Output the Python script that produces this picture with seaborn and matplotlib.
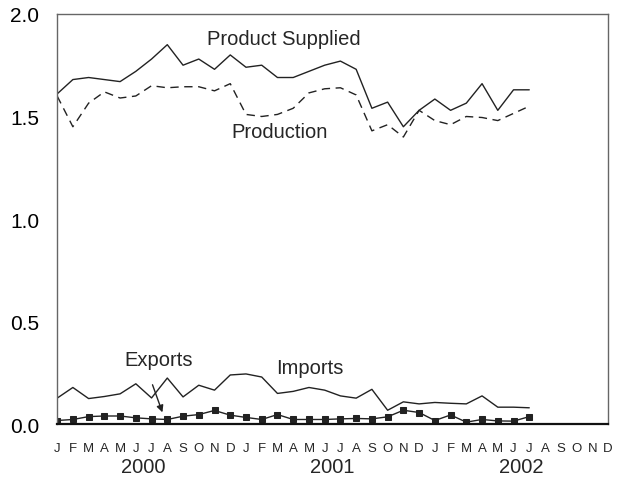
import numpy as np
import pandas as pd
import seaborn as sns
import matplotlib.pyplot as plt
import matplotlib.transforms as mtransforms

# Monthly values, Jan 2000 .. Jul 2002 (million barrels per day)
product_supplied = [1.61, 1.68, 1.69, 1.68, 1.67, 1.72, 1.78, 1.85, 1.75, 1.78, 1.73, 1.80,
                    1.74, 1.75, 1.69, 1.69, 1.72, 1.75, 1.77, 1.73, 1.54, 1.57, 1.45, 1.53,
                    1.585, 1.53, 1.565, 1.66, 1.53, 1.63, 1.63]
production = [1.60, 1.45, 1.565, 1.62, 1.59, 1.60, 1.65, 1.64, 1.645, 1.645, 1.625, 1.66,
              1.51, 1.50, 1.51, 1.54, 1.615, 1.635, 1.64, 1.605, 1.43, 1.46, 1.40, 1.53,
              1.48, 1.46, 1.50, 1.495, 1.48, 1.515, 1.55]
imports = [0.127, 0.179, 0.125, 0.135, 0.148, 0.197, 0.128, 0.225, 0.133, 0.19, 0.166, 0.24,
           0.245, 0.23, 0.15, 0.16, 0.179, 0.166, 0.138, 0.127, 0.17, 0.068, 0.109, 0.099,
           0.106, 0.102, 0.099, 0.138, 0.083, 0.083, 0.080]
exports = [0.018, 0.023, 0.037, 0.04, 0.04, 0.031, 0.026, 0.023, 0.039, 0.047, 0.067, 0.044,
           0.033, 0.023, 0.047, 0.023, 0.023, 0.023, 0.026, 0.028, 0.026, 0.036, 0.068, 0.057,
           0.018, 0.045, 0.01, 0.023, 0.016, 0.015, 0.037]
month_letters = list("JFMAMJJASOND") * 3
years = ["2000", "2001", "2002"]

df = pd.DataFrame({
    "month": np.arange(len(product_supplied)),
    "Product Supplied": product_supplied,
    "Production": production,
    "Imports": imports,
    "Exports": exports,
})

sns.set_style("white")
plt.rcParams["font.family"] = ["Liberation Sans", "DejaVu Sans"]

fig, ax = plt.subplots(figsize=(6.21, 4.81), dpi=100)
fig.subplots_adjust(left=0.092, right=0.979, top=0.969, bottom=0.116)

line_color = "#222222"
sns.lineplot(data=df, x="month", y="Product Supplied", ax=ax, color=line_color, linewidth=1.0)
sns.lineplot(data=df, x="month", y="Production", ax=ax, color=line_color, linewidth=1.0,
             linestyle=(0, (6, 4)))
sns.lineplot(data=df, x="month", y="Imports", ax=ax, color=line_color, linewidth=1.0)
sns.lineplot(data=df, x="month", y="Exports", ax=ax, color=line_color, linewidth=1.0,
             marker="s", markersize=4.5, markeredgecolor=line_color)

ax.set_xlim(0, 35)
ax.set_ylim(0, 2.0)
ax.set_xlabel("")
ax.set_ylabel("")

ax.set_yticks([0.0, 0.5, 1.0, 1.5, 2.0])
ax.set_yticklabels(["0.0", "0.5", "1.0", "1.5", "2.0"], fontsize=15)
ax.set_xticks(np.arange(36))
ax.set_xticklabels(month_letters, fontsize=9.5)
ax.tick_params(axis="y", direction="out", length=5, width=1, colors="#444444",
               labelcolor="black", pad=8)
ax.tick_params(axis="x", direction="out", length=8, width=1, color="#222222", pad=5)

for side in ["left", "right", "top"]:
    ax.spines[side].set_color("#666666")
    ax.spines[side].set_linewidth(1.0)
ax.spines["bottom"].set_color("#111111")
ax.spines["bottom"].set_linewidth(1.6)

# year labels below month letters
trans = mtransforms.blended_transform_factory(ax.transData, ax.transAxes)
for i, yr in enumerate(years):
    ax.text(5.5 + 12 * i, -0.103, yr, transform=trans, ha="center", va="center", fontsize=14.5)

# series labels
ax.text(9.5, 1.88, "Product Supplied", fontsize=14.5, ha="left", va="center")
ax.text(11.1, 1.425, "Production", fontsize=14.5, ha="left", va="center")
ax.text(13.9, 0.278, "Imports", fontsize=14.5, ha="left", va="center")
ax.text(4.3, 0.317, "Exports", fontsize=14.5, ha="left", va="center")
ax.annotate("", xy=(6.75, 0.045), xytext=(6.0, 0.205),
            arrowprops=dict(arrowstyle="-|>", color=line_color, lw=1.0, mutation_scale=10))

plt.savefig("out.png", dpi=100)
